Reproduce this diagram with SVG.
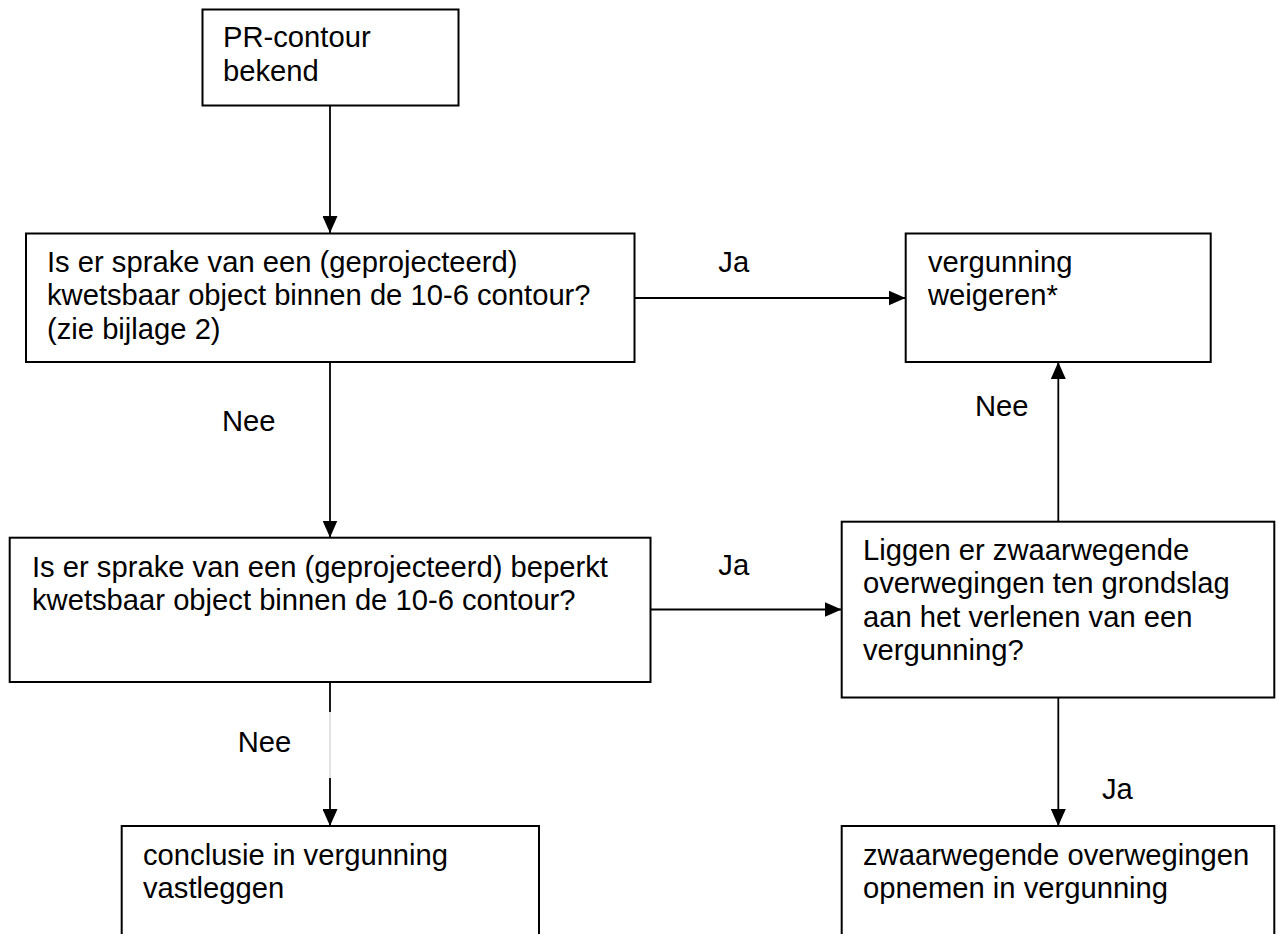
<svg xmlns="http://www.w3.org/2000/svg" width="1279" height="934" viewBox="0 0 1279 934">
<style>
.box{fill:#fff;stroke:#000;stroke-width:2}
.t{font-family:"Liberation Sans",Arial,sans-serif;font-size:29.2px;fill:#000}
.c{fill:none;stroke:#000;stroke-width:1.8}
.cg{fill:none;stroke:#d0d0d0;stroke-width:1.2}
</style>
<defs>
<marker id="ah" markerUnits="userSpaceOnUse" markerWidth="17" markerHeight="15" refX="17" refY="7.5" orient="auto">
<path d="M0,0 L17,7.5 L0,15 Z" fill="#000"/>
</marker>
</defs>
<rect width="1279" height="934" fill="#fff"/>
<g id="connectors">
<path class="c" d="M330,105.5 V233" marker-end="url(#ah)"/>
<path class="c" d="M634.5,298 H905.5" marker-end="url(#ah)"/>
<path class="c" d="M330,362 V537.5" marker-end="url(#ah)"/>
<path class="c" d="M650.5,609.5 H841.5" marker-end="url(#ah)"/>
<path class="c" d="M1058.3,521.7 V362" marker-end="url(#ah)"/>
<path class="c" d="M1058.3,697.5 V826" marker-end="url(#ah)"/>
<path class="c" d="M330,682 V712"/>
<path class="cg" d="M330,712 V778"/>
<path class="c" d="M330,778 V826" marker-end="url(#ah)"/>
<text class="t" x="718.3" y="272">Ja</text>
<text class="t" x="222" y="431">Nee</text>
<text class="t" x="975" y="416">Nee</text>
<text class="t" x="718.3" y="574.5">Ja</text>
<text class="t" x="237.7" y="752">Nee</text>
<text class="t" x="1102" y="799">Ja</text>
</g>
<g id="start">
<rect class="box" x="202.5" y="9.5" width="256" height="96"/>
<text class="t" x="223" y="47">PR-contour</text>
<text class="t" x="223" y="80.5">bekend</text>
</g>
<g id="q1">
<rect class="box" x="26" y="233.5" width="608.5" height="128.5"/>
<text class="t" x="47" y="272">Is er sprake van een (geprojecteerd)</text>
<text class="t" x="47" y="305.3">kwetsbaar object binnen de 10-6 contour?</text>
<text class="t" x="47" y="338.6">(zie bijlage 2)</text>
</g>
<g id="weigeren">
<rect class="box" x="905.7" y="233.5" width="305" height="128.5"/>
<text class="t" x="928" y="272">vergunning</text>
<text class="t" x="928" y="305.3">weigeren*</text>
</g>
<g id="q2">
<rect class="box" x="9.7" y="537.7" width="640.8" height="144.3"/>
<text class="t" x="32" y="576.7">Is er sprake van een (geprojecteerd) beperkt</text>
<text class="t" x="32" y="610">kwetsbaar object binnen de 10-6 contour?</text>
</g>
<g id="q3">
<rect class="box" x="841.7" y="521.7" width="432.6" height="175.8"/>
<text class="t" x="863" y="560">Liggen er zwaarwegende</text>
<text class="t" x="863" y="593.3">overwegingen ten grondslag</text>
<text class="t" x="863" y="626.7">aan het verlenen van een</text>
<text class="t" x="863" y="660">vergunning?</text>
</g>
<g id="opnemen">
<rect class="box" x="841.7" y="826" width="432.6" height="140"/>
<text class="t" x="863" y="865">zwaarwegende overwegingen</text>
<text class="t" x="863" y="898.3">opnemen in vergunning</text>
</g>
<g id="conclusie">
<rect class="box" x="121.7" y="826" width="417.3" height="140"/>
<text class="t" x="143" y="865">conclusie in vergunning</text>
<text class="t" x="143" y="898.3">vastleggen</text>
</g>
</svg>
